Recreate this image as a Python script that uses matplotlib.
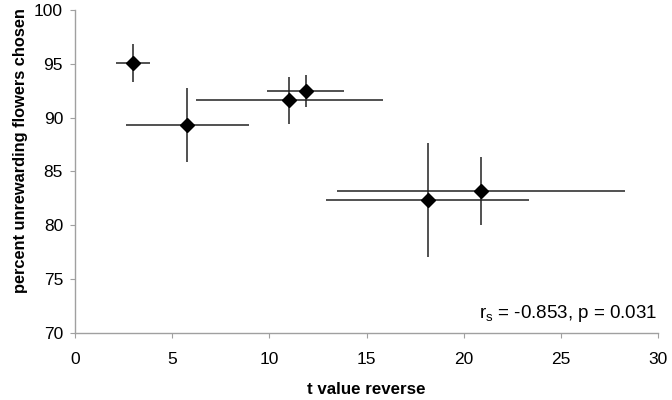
import matplotlib.pyplot as plt

plt.rcParams['font.family'] = ['Liberation Sans', 'DejaVu Sans']

# t value reverse (x) and percent unrewarding flowers chosen (y)
t_value = [2.97, 5.78, 11.02, 11.88, 18.13, 20.87]
pct_unrewarding = [95.1, 89.3, 91.6, 92.45, 82.3, 83.2]
x_err = [0.87, 3.15, 4.8, 1.98, 5.23, 7.42]
y_err = [1.75, 3.45, 2.2, 1.5, 5.3, 3.15]

x_ticks = [0, 5, 10, 15, 20, 25, 30]
y_ticks = [70, 75, 80, 85, 90, 95, 100]

fig = plt.figure(figsize=(6.72, 4.0), dpi=100)
ax = fig.add_axes([0.1116, 0.168, 0.868, 0.807])

ax.errorbar(t_value, pct_unrewarding, xerr=x_err, yerr=y_err,
            fmt='D', color='black', ecolor='#222222', elinewidth=1.1,
            capsize=0, markersize=7.5)

ax.set_xlim(0, 30)
ax.set_ylim(70, 100)
ax.set_xticks(x_ticks)
ax.set_yticks(y_ticks)
ax.tick_params(axis='both', labelsize=12.5, color='#a0a0a0', length=3.6,
               direction='out')
ax.tick_params(axis='x', pad=10)
ax.tick_params(axis='y', pad=5)

for side in ['top', 'right']:
    ax.spines[side].set_visible(False)
for side in ['left', 'bottom']:
    ax.spines[side].set_color('#a0a0a0')
    ax.spines[side].set_linewidth(1.0)

ax.set_xlabel('t value reverse', fontsize=12.2, fontweight='bold')
ax.xaxis.set_label_coords(0.5, -0.19)
ax.xaxis.label.set_va('baseline')
ax.set_ylabel('percent unrewarding flowers chosen', fontsize=11.8,
              fontweight='bold')
ax.yaxis.set_label_coords(-0.094, 0.566)
ax.yaxis.label.set_va('center')

ax.text(29.95, 71.4, r'r$_\mathregular{s}$ = -0.853, p = 0.031', fontsize=13.5,
        ha='right', va='baseline')

fig.savefig('out.png', dpi=100)
